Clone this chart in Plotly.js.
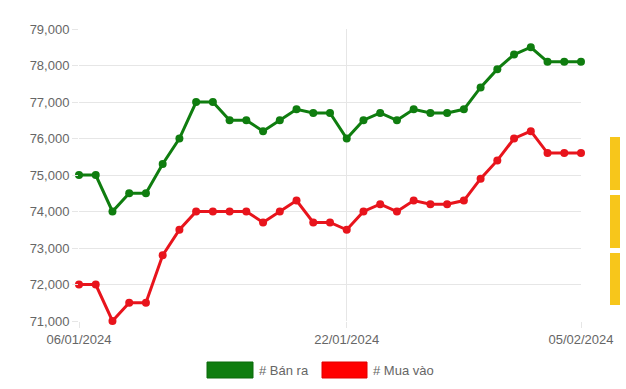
<!DOCTYPE html>
<html>
<head>
<meta charset="utf-8">
<script src="https://cdn.plot.ly/plotly-3.0.1.min.js"></script>
<style>html,body{margin:0;padding:0;background:#fff;}#chart{width:626px;height:389px;}</style>
</head>
<body>
<div id="chart"></div>
<script>
const dates = ["06/01/2024","07/01/2024","08/01/2024","09/01/2024","10/01/2024","11/01/2024","12/01/2024","13/01/2024","14/01/2024","15/01/2024","16/01/2024","17/01/2024","18/01/2024","19/01/2024","20/01/2024","21/01/2024","22/01/2024","23/01/2024","24/01/2024","25/01/2024","26/01/2024","27/01/2024","28/01/2024","29/01/2024","30/01/2024","31/01/2024","01/02/2024","02/02/2024","03/02/2024","04/02/2024","05/02/2024"];
const banRa = [75000,75000,74000,74500,74500,75300,76000,77000,77000,76500,76500,76200,76500,76800,76700,76700,76000,76500,76700,76500,76800,76700,76700,76800,77400,77900,78300,78500,78100,78100,78100];
const muaVao = [72000,72000,71000,71500,71500,72800,73500,74000,74000,74000,74000,73700,74000,74300,73700,73700,73500,74000,74200,74000,74300,74200,74200,74300,74900,75400,76000,76200,75600,75600,75600];
const xTicks = ["06/01/2024","22/01/2024","05/02/2024"];
const seriesNames = ["# Bán ra","# Mua vào"];

const font = {family:"Liberation Sans, Arial, sans-serif", size:13, color:"#666"};
const grid = "#e6e6e6";

const traces = [
  {x:dates, y:banRa, name:seriesNames[0], type:"scatter", mode:"lines+markers",
   line:{color:"#0f7d0f", width:3}, marker:{color:"#0f7d0f", size:8}, cliponaxis:false},
  {x:dates, y:muaVao, name:seriesNames[1], type:"scatter", mode:"lines+markers",
   line:{color:"#e8141c", width:3}, marker:{color:"#e8141c", size:8}, cliponaxis:false}
];

const px = v => (v-79)/502, py = v => (321-v)/292;
const layout = {
  width:626, height:389,
  margin:{l:79, r:45, t:29, b:68},
  paper_bgcolor:"#fff", plot_bgcolor:"#fff",
  showlegend:false, font:font,
  xaxis:{type:"category", range:[0,30], tickmode:"array", tickvals:xTicks, ticktext:xTicks,
    showgrid:true, gridcolor:grid, gridwidth:1, zeroline:false, showline:false,
    ticks:"outside", ticklen:6, tickcolor:grid, tickfont:font, fixedrange:true},
  yaxis:{range:[71000,79000], dtick:1000, tick0:71000, tickformat:",d",
    showgrid:true, gridcolor:grid, gridwidth:1, zeroline:false, showline:false,
    ticks:"outside", ticklen:6, tickcolor:grid, tickfont:font, fixedrange:true},
  shapes:[
    {type:"rect", xref:"paper", yref:"paper", x0:px(207), x1:px(253), y0:py(362), y1:py(378), fillcolor:"#0f7d0f", line:{color:"#0a6a0a", width:1}},
    {type:"rect", xref:"paper", yref:"paper", x0:px(322), x1:px(367), y0:py(362), y1:py(378), fillcolor:"#ff0000", line:{color:"#e00000", width:1}},
    {type:"rect", xref:"paper", yref:"paper", x0:px(610), x1:px(620), y0:py(137), y1:py(190), fillcolor:"#f7c61b", line:{width:0}},
    {type:"rect", xref:"paper", yref:"paper", x0:px(610), x1:px(620), y0:py(195), y1:py(248), fillcolor:"#f7c61b", line:{width:0}},
    {type:"rect", xref:"paper", yref:"paper", x0:px(610), x1:px(620), y0:py(253), y1:py(305), fillcolor:"#f7c61b", line:{width:0}}
  ],
  annotations:[
    {xref:"paper", yref:"paper", x:px(257), y:py(370), text:seriesNames[0], showarrow:false, xanchor:"left", yanchor:"middle", font:font},
    {xref:"paper", yref:"paper", x:px(371), y:py(370), text:seriesNames[1], showarrow:false, xanchor:"left", yanchor:"middle", font:font}
  ]
};
Plotly.newPlot("chart", traces, layout, {displayModeBar:false, staticPlot:true});
</script>
</body>
</html>
